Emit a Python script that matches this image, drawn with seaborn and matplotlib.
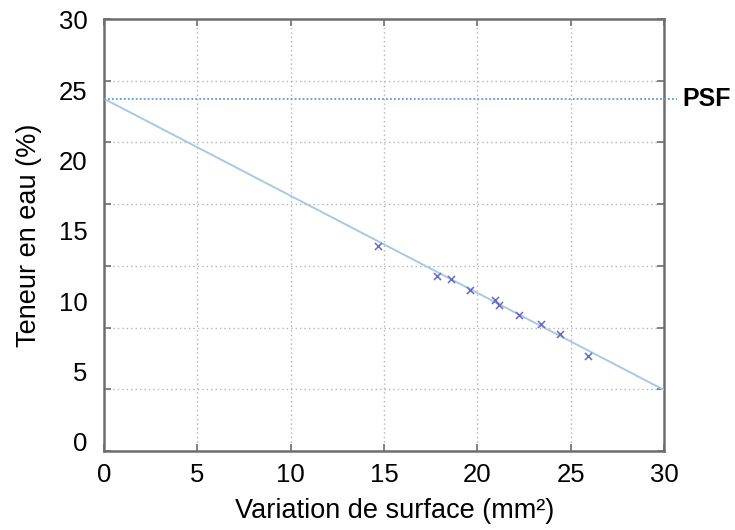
import numpy as np
import pandas as pd
import matplotlib
matplotlib.use("Agg")
import matplotlib.pyplot as plt
import seaborn as sns

# ---- data ----
surface = [14.70, 17.84, 18.61, 19.61, 20.96, 21.18, 22.25, 23.43, 24.43, 25.95]
teneur = [13.96, 11.82, 11.57, 10.81, 10.09, 9.72, 9.01, 8.37, 7.66, 6.11]
trend_x = [0, 30]
trend_y = [24.4, 3.7]
psf_value = 24.4
psf_label = "PSF"
x_ticks = [0, 5, 10, 15, 20, 25, 30]
y_ticks = [0, 5, 10, 15, 20, 25, 30]
x_label = "Variation de surface (mm²)"
y_label = "Teneur en eau (%)"

sns.set_style("white")
plt.rcParams["font.family"] = ["Liberation Sans", "DejaVu Sans"]
plt.rcParams["text.color"] = "black"
plt.rcParams["axes.labelcolor"] = "black"

fig = plt.figure(figsize=(7.35, 5.30), dpi=100)
ax = fig.add_axes([104 / 735, 1 - 451 / 530, 560 / 735, 432 / 530])

pts = pd.DataFrame({"x": surface, "y": teneur})
trend = pd.DataFrame({"x": trend_x, "y": trend_y})

sns.lineplot(data=trend, x="x", y="y", ax=ax, color="#a9c8e8", linewidth=1.4, zorder=3)
sns.scatterplot(data=pts, x="x", y="y", ax=ax, marker="x", s=26, color="#6a6ac4",
                linewidth=1.1, zorder=4)

ax.axhline(psf_value, xmin=0, xmax=1.023, color="#5b9bd5", linestyle=(0, (1, 1.2)),
           linewidth=1.3, clip_on=False, zorder=3)
ax.text(1.033, psf_value, psf_label, transform=ax.get_yaxis_transform(),
        ha="left", va="center", fontsize=18, fontweight="bold", color="black")

ylo, yhi = -0.64, 30.07
ax.set_xlim(0, 30)
ax.set_ylim(ylo, yhi)

ax.set_xticks(x_ticks)
ax.set_xticklabels([str(v) for v in x_ticks])
ax.set_yticks(y_ticks)
ax.set_yticklabels([str(v) for v in y_ticks])
ax.set_yticks(np.linspace(ylo, yhi, 8), minor=True)

grid_kw = dict(color="#b4b4b4", linestyle=(0, (1, 2.2)), linewidth=1.0)
ax.xaxis.grid(True, which="major", **grid_kw)
ax.yaxis.grid(True, which="minor", **grid_kw)
ax.yaxis.grid(False, which="major")
ax.set_axisbelow(True)

spine_col = "#6e6e6e"
for s in ax.spines.values():
    s.set_color(spine_col)
    s.set_linewidth(1.8)

ax.tick_params(axis="x", which="major", direction="in", length=5, width=1.2,
               color=spine_col, labelcolor="black", top=True, bottom=True,
               labelsize=18.5, pad=9)
ax.tick_params(axis="y", which="major", length=0, labelsize=18.5, pad=12,
               left=True, labelcolor="black")
ax.tick_params(axis="y", which="minor", direction="in", length=5, width=1.2,
               color=spine_col, left=True, right=True)

ax.set_xlabel(x_label, fontsize=19.5, labelpad=6)
ax.xaxis.set_label_coords(0.519, -0.108)
ax.xaxis.label.set_va("top")
ax.set_ylabel(y_label, fontsize=19.5, labelpad=12)

fig.savefig("out.png", dpi=100)
